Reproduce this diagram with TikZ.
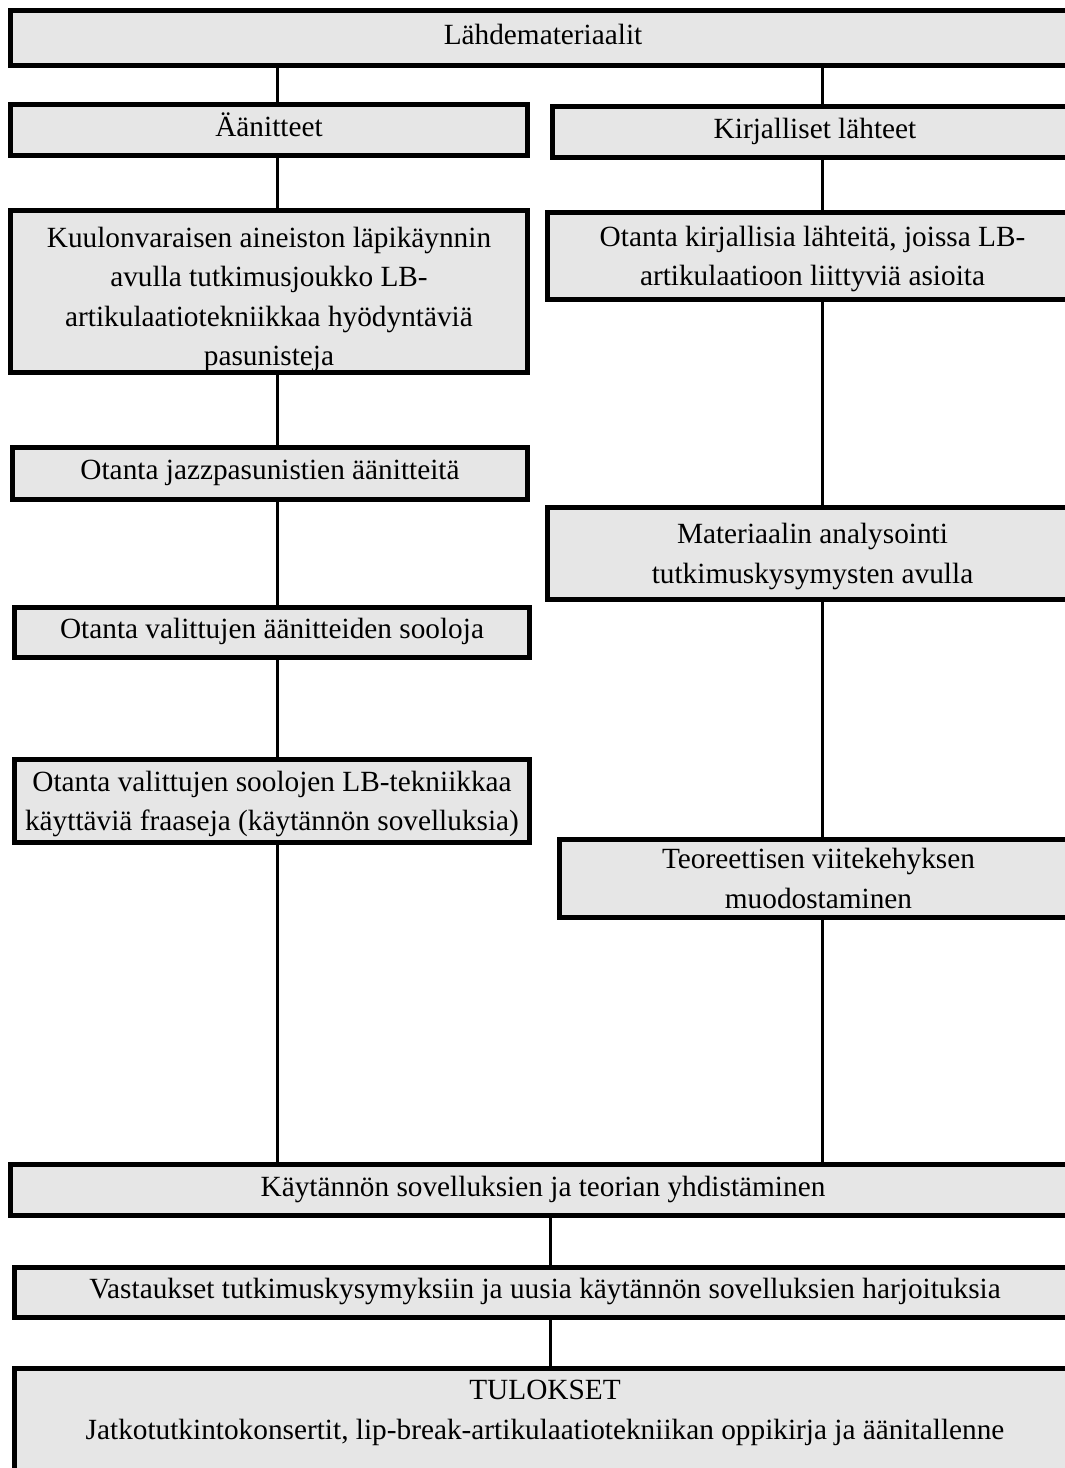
\documentclass[tikz,border=0pt]{standalone}
\usepackage{fontspec}
\setmainfont{Liberation Serif}
\definecolor{boxGray}{HTML}{E6E6E6}
\usetikzlibrary{positioning}

\begin{document}
\begin{tikzpicture}[x=1pt, y=-1pt,
  stage/.style={draw, line width=5pt, fill=boxGray, anchor=north west,
    align=center, inner sep=0pt, font=\fontsize{29.3}{39.5}\selectfont},
  single/.style={text height=18pt, text depth=6pt},
  multi/.style={text depth=0pt},
  link/.style={line width=3pt}]

  \useasboundingbox (0,0) rectangle (1065,1468);
  \clip (0,0) rectangle (1065,1468);

  % columns of the connectors
  \coordinate (lc) at (277,0);
  \coordinate (rc) at (822,0);
  \coordinate (mc) at (550,0);

  \node[stage, single, minimum width=1065pt, minimum height=55pt] (src) at (8,8) {L\"ahdemateriaalit};

  \node[stage, single, minimum width=517pt, minimum height=51pt] (aan) at (8,102) {\"A\"anitteet};
  \node[stage, single, minimum width=525pt, minimum height=51pt] (kir) at (550,104) {Kirjalliset l\"ahteet};

  \node[stage, multi, text height=148pt, minimum width=517pt, minimum height=162pt] (kuul) at (8,208) {
    Kuulonvaraisen aineiston l\"apik\"aynnin\\
    avulla tutkimusjoukko LB-\\
    artikulaatiotekniikkaa hy\"odynt\"avi\"a\\
    pasunisteja};
  \node[stage, multi, minimum width=530pt, minimum height=87pt] (otk) at (545,210) {
    Otanta kirjallisia l\"ahteit\"a, joissa LB-\\
    artikulaatioon liittyvi\"a asioita};

  \node[stage, single, minimum width=515pt, minimum height=52pt] (jazz) at (10,445) {Otanta jazzpasunistien \"a\"anitteit\"a};
  \node[stage, multi, minimum width=530pt, minimum height=92pt] (anal) at (545,505) {
    Materiaalin analysointi\\
    tutkimuskysymysten avulla};

  \node[stage, single, minimum width=515pt, minimum height=50pt] (soolo) at (12,605) {Otanta valittujen \"a\"anitteiden sooloja};

  \node[stage, multi, minimum width=515pt, minimum height=83pt] (fraas) at (12,757) {
    Otanta valittujen soolojen LB-tekniikkaa\\
    k\"aytt\"avi\"a fraaseja (k\"ayt\"ann\"on sovelluksia)};
  \node[stage, multi, minimum width=518pt, minimum height=78pt] (teor) at (557,837) {
    Teoreettisen viitekehyksen\\
    muodostaminen};

  \node[stage, single, minimum width=1065pt, minimum height=51pt] (yhd) at (8,1162) {K\"ayt\"ann\"on sovelluksien ja teorian yhdist\"aminen};
  \node[stage, single, minimum width=1061pt, minimum height=50pt] (vast) at (12,1265) {Vastaukset tutkimuskysymyksiin ja uusia k\"ayt\"ann\"on sovelluksien harjoituksia};
  \node[stage, minimum width=1061pt, inner ysep=12pt, text depth=90pt] (tul) at (12,1366) {
    TULOKSET\\
    Jatkotutkintokonsertit, lip-break-artikulaatiotekniikan oppikirja ja \"a\"anitallenne};

  % left branch
  \draw[link] (src.south -| lc) -- (aan.north -| lc);
  \draw[link] (aan.south -| lc) -- (kuul.north -| lc);
  \draw[link] (kuul.south -| lc) -- (jazz.north -| lc);
  \draw[link] (jazz.south -| lc) -- (soolo.north -| lc);
  \draw[link] (soolo.south -| lc) -- (fraas.north -| lc);
  \draw[link] (fraas.south -| lc) -- (yhd.north -| lc);
  % right branch
  \draw[link] (src.south -| rc) -- (kir.north -| rc);
  \draw[link] (kir.south -| rc) -- (otk.north -| rc);
  \draw[link] (otk.south -| rc) -- (anal.north -| rc);
  \draw[link] (anal.south -| rc) -- (teor.north -| rc);
  \draw[link] (teor.south -| rc) -- (yhd.north -| rc);
  % joined
  \draw[link] (yhd.south -| mc) -- (vast.north -| mc);
  \draw[link] (vast.south -| mc) -- (tul.north -| mc);
\end{tikzpicture}
\end{document}
